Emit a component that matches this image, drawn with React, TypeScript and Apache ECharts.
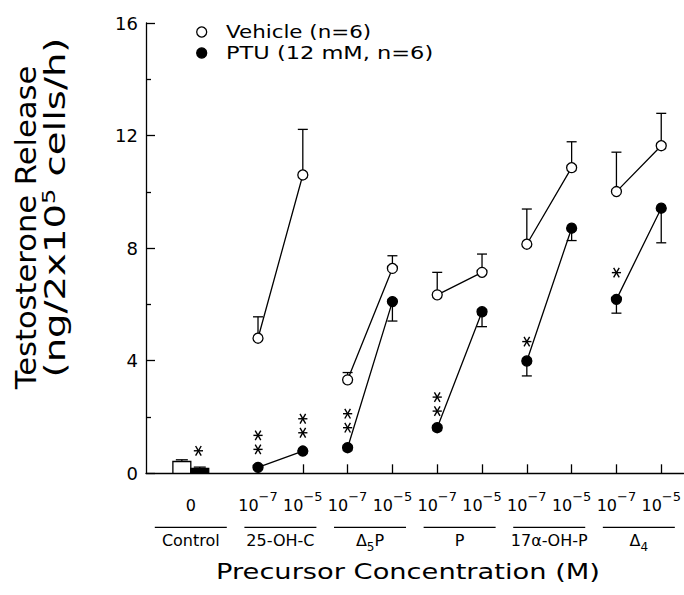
import React, { useEffect, useRef } from "react";
import * as echarts from "echarts";

const FONT = "DejaVu Sans";

// x positions of the ten precursor points (two concentrations per precursor)
const positions = [1, 2, 3, 4, 5, 6, 7, 8, 9, 10];
const exponentLabels = ["−7", "−5", "−7", "−5", "−7", "−5", "−7", "−5", "−7", "−5"];

const vehicleMean = [4.8, 10.6, 3.32, 7.28, 6.34, 7.14, 8.14, 10.86, 10.01, 11.64];
const vehicleSem = [0.76, 1.62, 0.26, 0.45, 0.8, 0.65, 1.25, 0.92, 1.4, 1.15];
const ptuMean = [0.21, 0.79, 0.91, 6.1, 1.62, 5.74, 3.99, 8.71, 6.18, 9.42];
const ptuSem = [0, 0, 0, 0.69, 0, 0.53, 0.53, 0.44, 0.49, 1.23];

// control bars (vehicle, PTU)
const controlX = [-0.7, -0.3];
const controlMean = [0.42, 0.17];
const controlSem = [0.06, 0.05];

const groupNames = ["Control", "25-OH-C", "Δ5P", "P", "17α-OH-P", "Δ4"];
const groupCenters = [-0.5, 1.5, 3.5, 5.5, 7.5, 9.5];

// significance asterisks (x position, y value of the lowest star, number of stars)
const starX = [-0.33, 1, 2, 3, 5, 7, 9];
const starY = [0.8, 0.85, 1.44, 1.62, 2.21, 4.68, 7.13];
const starCount = [1, 2, 2, 2, 2, 1, 1];

const buildLine = (means: number[]) => {
  const out: any[] = [];
  for (let i = 0; i < positions.length; i += 2) {
    if (i > 0) out.push([positions[i] - 0.5, "-"]);
    out.push([positions[i], means[i]], [positions[i + 1], means[i + 1]]);
  }
  return out;
};

const richName = (name: string) => {
  const m = name.match(/^Δ(\d)(.*)$/);
  if (m) return `{a|Δ}{sub|${m[1]}}` + (m[2] ? `{a|${m[2]}}` : "");
  return `{a|${name}}`;
};

const LW = 1.3;

export default function App() {
  const ref = useRef<HTMLDivElement>(null);

  useEffect(() => {
    const chart = echarts.init(ref.current!, null, { renderer: "svg" });

    const errData = [
      ...positions.map((p, i) => [p, vehicleMean[i], vehicleSem[i], 1]),
      ...positions.map((p, i) => [p, ptuMean[i], ptuSem[i], -1]),
    ];

    const option: any = {
      animation: false,
      backgroundColor: "#fff",
      grid: { left: 146, right: 0, top: 23, height: 450.3 },
      xAxis: {
        type: "value",
        min: -1.5,
        max: 10.5,
        splitLine: { show: false },
        axisLine: { show: true, onZero: false, lineStyle: { color: "#000", width: LW } },
        axisTick: {
          show: true,
          inside: true,
          length: 9,
          customValues: positions,
          lineStyle: { color: "#000", width: LW },
        },
        axisLabel: {
          customValues: positions,
          margin: 6,
          color: "#000",
          fontFamily: FONT,
          formatter: (v: number) => {
            const i = positions.indexOf(v);
            return `{n|10}{s|${exponentLabels[i]}}`;
          },
          rich: {
            n: { fontSize: 16, lineHeight: 16, verticalAlign: "bottom", fontFamily: FONT, color: "#000" },
            s: { fontSize: 13, lineHeight: 34, verticalAlign: "middle", fontFamily: FONT, color: "#000" },
          },
        },
      },
      yAxis: {
        type: "value",
        min: 0,
        max: 16,
        interval: 4,
        splitLine: { show: false },
        axisLine: { show: true, onZero: false, lineStyle: { color: "#000", width: LW } },
        axisTick: { show: true, inside: true, length: 9, lineStyle: { color: "#000", width: LW } },
        minorTick: { show: true, splitNumber: 2, length: 5, lineStyle: { color: "#000", width: LW } },
        axisLabel: { color: "#000", fontSize: 18, fontFamily: FONT, margin: 8 },
      },
      graphic: [
        {
          type: "text",
          x: 408,
          y: 571,
          scaleX: 1.24,
          style: {
            text: "Precursor Concentration (M)",
            fontSize: 22,
            fontFamily: FONT,
            fill: "#000",
            align: "center",
            verticalAlign: "middle",
          },
        },
        {
          type: "text",
          x: 25.8,
          y: 227.5,
          rotation: Math.PI / 2,
          scaleX: 1.055,
          style: {
            text: "Testosterone Release",
            fontSize: 29,
            fontFamily: FONT,
            fill: "#000",
            align: "center",
            verticalAlign: "middle",
          },
        },
        {
          type: "text",
          x: 49,
          y: 207.5,
          rotation: Math.PI / 2,
          scaleX: 1.33,
          style: {
            text: "{a|(ng/2x10}{s|5}{a| cells/h)}",
            fontFamily: FONT,
            fill: "#000",
            align: "center",
            verticalAlign: "middle",
            rich: {
              a: { fontSize: 29, lineHeight: 29, verticalAlign: "bottom", fontFamily: FONT, fill: "#000" },
              s: { fontSize: 18, lineHeight: 40, verticalAlign: "middle", fontFamily: FONT, fill: "#000" },
            },
          },
        },
        {
          type: "circle",
          shape: { cx: 201.7, cy: 32, r: 5 },
          style: { fill: "#fff", stroke: "#000", lineWidth: LW },
        },
        {
          type: "circle",
          shape: { cx: 201.7, cy: 53, r: 5 },
          style: { fill: "#000", stroke: "#000", lineWidth: LW },
        },
        {
          type: "text",
          x: 226,
          y: 32,
          scaleX: 1.19,
          style: { text: "Vehicle (n=6)", fontSize: 18, fontFamily: FONT, fill: "#000", align: "left", verticalAlign: "middle" },
        },
        {
          type: "text",
          x: 226,
          y: 53,
          scaleX: 1.25,
          style: { text: "PTU (12 mM, n=6)", fontSize: 18, fontFamily: FONT, fill: "#000", align: "left", verticalAlign: "middle" },
        },
      ],
      series: [
        {
          type: "custom",
          name: "errors",
          z: 1,
          silent: true,
          clip: false,
          data: errData,
          renderItem: (params: any, api: any) => {
            const x = api.value(0);
            const m = api.value(1);
            const e = api.value(2);
            const d = api.value(3);
            if (!e) return { type: "group", children: [] };
            const p0 = api.coord([x, m]);
            const p1 = api.coord([x, m + d * e]);
            const st = { stroke: "#000", lineWidth: LW };
            return {
              type: "group",
              children: [
                { type: "line", shape: { x1: p0[0], y1: p0[1], x2: p1[0], y2: p1[1] }, style: st },
                { type: "line", shape: { x1: p1[0] - 5, y1: p1[1], x2: p1[0] + 5, y2: p1[1] }, style: st },
              ],
            };
          },
        },
        {
          type: "custom",
          name: "Control",
          z: 2,
          silent: true,
          clip: false,
          data: controlX.map((x, i) => [x, controlMean[i], controlSem[i], i]),
          renderItem: (params: any, api: any) => {
            const x = api.value(0);
            const m = api.value(1);
            const e = api.value(2);
            const idx = api.value(3);
            const tl = api.coord([x - 0.2, m]);
            const br = api.coord([x + 0.2, 0]);
            const top = api.coord([x, m + e]);
            const st = { stroke: "#000", lineWidth: LW };
            return {
              type: "group",
              children: [
                {
                  type: "rect",
                  shape: { x: tl[0], y: tl[1], width: br[0] - tl[0], height: br[1] - tl[1] },
                  style: { fill: idx === 0 ? "#fff" : "#000", stroke: "#000", lineWidth: LW },
                },
                { type: "line", shape: { x1: top[0], y1: tl[1], x2: top[0], y2: top[1] }, style: st },
                { type: "line", shape: { x1: top[0] - 6, y1: top[1], x2: top[0] + 6, y2: top[1] }, style: st },
              ],
            };
          },
        },
        {
          type: "line",
          name: "Vehicle (n=6)",
          z: 3,
          silent: true,
          data: buildLine(vehicleMean),
          connectNulls: false,
          symbol: "circle",
          symbolSize: 10,
          itemStyle: { color: "#fff", borderColor: "#000", borderWidth: LW },
          lineStyle: { color: "#000", width: LW },
        },
        {
          type: "line",
          name: "PTU (12 mM, n=6)",
          z: 3,
          silent: true,
          data: buildLine(ptuMean),
          connectNulls: false,
          symbol: "circle",
          symbolSize: 10,
          itemStyle: { color: "#000", borderColor: "#000", borderWidth: LW },
          lineStyle: { color: "#000", width: LW },
        },
        {
          // significance asterisks drawn as six-armed marks
          type: "custom",
          name: "stars",
          z: 4,
          silent: true,
          clip: false,
          data: starX.map((x, i) => [x, starY[i], starCount[i]]),
          renderItem: (params: any, api: any) => {
            const p = api.coord([api.value(0), api.value(1)]);
            const n = api.value(2);
            const st = { stroke: "#000", lineWidth: 1.4 };
            const children: any[] = [];
            for (let k = 0; k < n; k++) {
              const cx = p[0];
              const cy = p[1] - k * 14;
              children.push(
                { type: "line", shape: { x1: cx - 4.6, y1: cy, x2: cx + 4.6, y2: cy }, style: st },
                { type: "line", shape: { x1: cx - 2.8, y1: cy - 4.8, x2: cx + 2.8, y2: cy + 4.8 }, style: st },
                { type: "line", shape: { x1: cx + 2.8, y1: cy - 4.8, x2: cx - 2.8, y2: cy + 4.8 }, style: st }
              );
            }
            return { type: "group", children };
          },
        },
        {
          type: "custom",
          name: "groups",
          z: 4,
          silent: true,
          clip: false,
          data: groupCenters.map((c, i) => [c, 0, i]),
          renderItem: (params: any, api: any) => {
            const c = api.value(0);
            const i = api.value(2);
            const p = api.coord([c, 0]);
            const children: any[] = [
              {
                type: "line",
                shape: { x1: p[0] - 36, y1: p[1] + 54, x2: p[0] + 36, y2: p[1] + 54 },
                style: { stroke: "#000", lineWidth: LW },
              },
              {
                type: "text",
                x: p[0],
                y: p[1] + 59,
                style: {
                  text: richName(groupNames[i]),
                  fontFamily: FONT,
                  fill: "#000",
                  align: "center",
                  verticalAlign: "top",
                  rich: {
                    a: { fontSize: 16, lineHeight: 16, verticalAlign: "top", fontFamily: FONT, fill: "#000" },
                    sub: { fontSize: 12, lineHeight: 30, verticalAlign: "middle", fontFamily: FONT, fill: "#000" },
                  },
                },
              },
            ];
            if (i === 0) {
              children.push({
                type: "text",
                x: p[0],
                y: p[1] + 31.7,
                style: { text: "0", fontSize: 16, fontFamily: FONT, fill: "#000", align: "center", verticalAlign: "middle" },
              });
            }
            return { type: "group", children };
          },
        },
      ],
    };

    chart.setOption(option);
    return () => chart.dispose();
  }, []);

  return (
    <div
      ref={ref}
      style={{ position: "fixed", left: 0, top: 0, width: 684, height: 595, background: "#fff" }}
    />
  );
}
